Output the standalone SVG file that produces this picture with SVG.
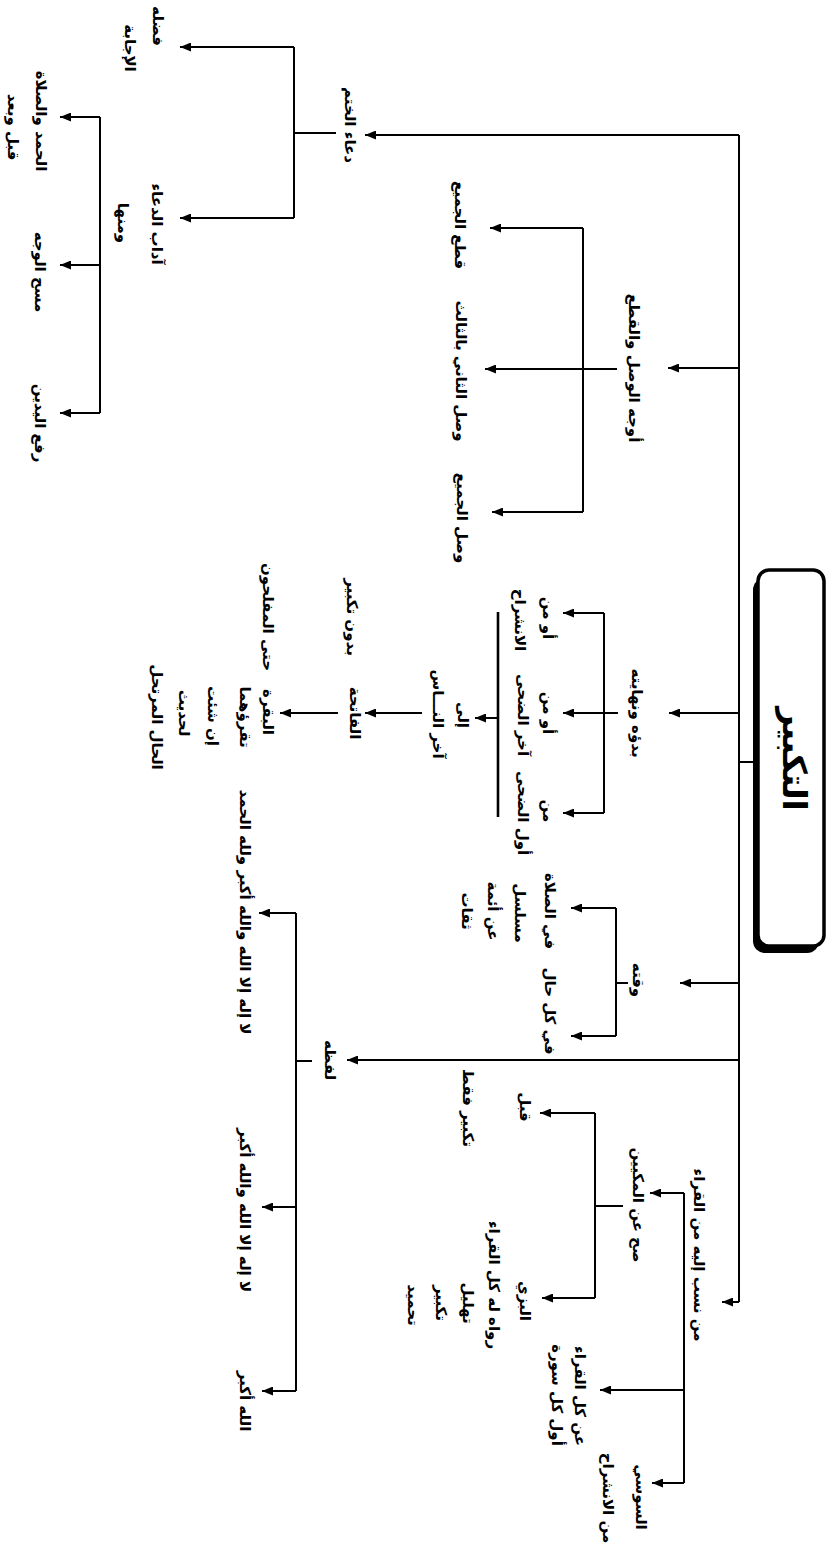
<svg xmlns="http://www.w3.org/2000/svg" width="828" height="1546" viewBox="0 0 828 1546">
<style>
.t{font-family:"DejaVu Sans","Noto Sans",sans-serif;font-size:15px;font-weight:bold;fill:#000;text-anchor:middle;dominant-baseline:central;direction:rtl}
.ttl{font-family:"DejaVu Sans","Noto Sans",sans-serif;font-size:33px;font-weight:bold;fill:#000;text-anchor:middle;dominant-baseline:central;direction:rtl}
.c{fill:none;stroke:#000;stroke-width:2}
.a{fill:none;stroke:#000;stroke-width:2;marker-end:url(#ah)}
</style>
<defs>
<marker id="ah" markerWidth="11" markerHeight="9" refX="11" refY="4.5" orient="auto" markerUnits="userSpaceOnUse"><path d="M0,0 L11,4.5 L0,9 z" fill="#000"/></marker>
</defs>
<rect width="828" height="1546" fill="#fff"/>
<g id="connectors">
<path class="c" d="M739,1302 L739,135"/>
<path class="a" d="M739,135 L365,135"/>
<path class="a" d="M739,1302 L722,1302"/>
<path class="a" d="M739,368 L668,368"/>
<path class="a" d="M739,713 L669,713"/>
<path class="c" d="M739,762 L755,762"/>
<path class="a" d="M739,983 L680,983"/>
<path class="a" d="M739,1060 L347,1060"/>
<path class="c" d="M336,133 L294,133"/>
<path class="c" d="M294,47 L294,218"/>
<path class="a" d="M294,47 L180,47"/>
<path class="a" d="M294,218 L180,218"/>
<path class="c" d="M100,117 L100,413"/>
<path class="a" d="M100,117 L60,117"/>
<path class="a" d="M100,265 L60,265"/>
<path class="a" d="M100,413 L60,413"/>
<path class="c" d="M583,228 L583,512"/>
<path class="a" d="M583,228 L490,228"/>
<path class="a" d="M617,369 L485,369"/>
<path class="a" d="M583,512 L492,512"/>
<path class="c" d="M604,613 L604,813"/>
<path class="a" d="M604,613 L563,613"/>
<path class="a" d="M618,713 L563,713"/>
<path class="a" d="M604,813 L563,813"/>
<path class="c" d="M498,612 L498,817" style="stroke-width:2.6"/>
<path class="a" d="M498,718 L475,718"/>
<path class="a" d="M422,713 L365,713"/>
<path class="a" d="M338,713 L280,713"/>
<path class="c" d="M628,983 L616,983"/>
<path class="c" d="M616,908 L616,1036"/>
<path class="a" d="M616,908 L571,908"/>
<path class="a" d="M616,1036 L571,1036"/>
<path class="c" d="M312,1061 L296,1061"/>
<path class="c" d="M296,913 L296,1391"/>
<path class="a" d="M296,913 L259,913"/>
<path class="a" d="M296,1207 L262,1207"/>
<path class="a" d="M296,1391 L262,1391"/>
<path class="c" d="M684,1193 L684,1483"/>
<path class="a" d="M684,1193 L650,1193"/>
<path class="a" d="M684,1390 L600,1390"/>
<path class="a" d="M684,1483 L652,1483"/>
<path class="c" d="M623,1206 L595,1206"/>
<path class="c" d="M595,1113 L595,1298"/>
<path class="a" d="M595,1113 L540,1113"/>
<path class="a" d="M595,1298 L542,1298"/>
</g>
<g id="root">
<rect x="753" y="578" width="66" height="375" rx="12" fill="#000"/>
<rect x="758" y="570" width="66" height="376" rx="11" fill="#fff" stroke="#000" stroke-width="3.5"/>
<text class="ttl" transform="translate(794 759) rotate(90)">التكبير</text>
</g>
<g id="n-dua">
<text class="t" transform="translate(350 125) rotate(90)">دعاء الختم</text>
</g>
<g id="n-fadluh">
<text class="t" transform="translate(158 26) rotate(90)">فضله</text>
<text class="t" transform="translate(130 48) rotate(90)">الإجابة</text>
</g>
<g id="n-adab">
<text class="t" transform="translate(157 224) rotate(90)">آداب الدعاء</text>
<text class="t" transform="translate(123 223) rotate(90)">ومنها</text>
</g>
<g id="n-hamd">
<text class="t" transform="translate(41 121) rotate(90)">الحمد والصلاة</text>
<text class="t" transform="translate(13 127) rotate(90)">قبل وبعد</text>
</g>
<g id="n-mash">
<text class="t" transform="translate(40 272) rotate(90)">مسح الوجه</text>
</g>
<g id="n-raf">
<text class="t" transform="translate(40 423) rotate(90)">رفع اليدين</text>
</g>
<g id="n-awjuh">
<text class="t" transform="translate(634 368) rotate(90)">أوجه الوصل والقطع</text>
</g>
<g id="n-qat">
<text class="t" transform="translate(460 225) rotate(90)">قطع الجميع</text>
</g>
<g id="n-wasl2">
<text class="t" transform="translate(461 371) rotate(90)">وصل الثاني بالثالث</text>
</g>
<g id="n-wasl">
<text class="t" transform="translate(462 518) rotate(90)">وصل الجميع</text>
</g>
<g id="n-badu">
<text class="t" transform="translate(637 713) rotate(90)">بدؤه ونهايته</text>
</g>
<g id="n-inshirah">
<text class="t" transform="translate(548 618) rotate(90)">أو من</text>
<text class="t" transform="translate(520 620) rotate(90)">الانشراح</text>
</g>
<g id="n-akhir-duha">
<text class="t" transform="translate(548 713) rotate(90)">أو من</text>
<text class="t" transform="translate(523 715) rotate(90)">آخر الضحى</text>
</g>
<g id="n-awwal-duha">
<text class="t" transform="translate(548 811) rotate(90)">من</text>
<text class="t" transform="translate(523 813) rotate(90)">أول الضحى</text>
</g>
<g id="n-ila">
<text class="t" transform="translate(463 715) rotate(90)">إلى</text>
<text class="t" transform="translate(438 714) rotate(90)">آخر النـــاس</text>
</g>
<g id="n-fatiha">
<text class="t" transform="translate(355 713) rotate(90)">الفاتحة</text>
<text class="t" transform="translate(352 617) rotate(90)">بدون تكبير</text>
</g>
<g id="n-baqara">
<text class="t" transform="translate(268 712) rotate(90)">البقرة</text>
<text class="t" transform="translate(245 717) rotate(90)">تقرؤهما</text>
<text class="t" transform="translate(213 716) rotate(90)">إن شئت</text>
<text class="t" transform="translate(184 713) rotate(90)">لحديث</text>
<text class="t" transform="translate(157 717) rotate(90)">الحال المرتحل</text>
<text class="t" transform="translate(268 617) rotate(90)">حتى المفلحون</text>
</g>
<g id="n-waqtuh">
<text class="t" transform="translate(638 980) rotate(90)">وقته</text>
</g>
<g id="n-salah">
<text class="t" transform="translate(550 911) rotate(90)">في الصلاة</text>
<text class="t" transform="translate(520 913) rotate(90)">مسلسل</text>
<text class="t" transform="translate(493 911) rotate(90)">عن أئمة</text>
<text class="t" transform="translate(467 911) rotate(90)">ثقات</text>
</g>
<g id="n-kull-hal">
<text class="t" transform="translate(550 1011) rotate(90)">في كل حال</text>
</g>
<g id="n-lafzuh">
<text class="t" transform="translate(330 1060) rotate(90)">لفظه</text>
</g>
<g id="n-lafz1">
<text class="t" transform="translate(245 912) rotate(90)">لا إله إلا الله والله أكبر ولله الحمد</text>
</g>
<g id="n-lafz2">
<text class="t" transform="translate(245 1210) rotate(90)">لا إله إلا الله والله أكبر</text>
</g>
<g id="n-lafz3">
<text class="t" transform="translate(245 1401) rotate(90)">الله أكبر</text>
</g>
<g id="n-man">
<text class="t" transform="translate(699 1255) rotate(90)">من نسب إليه من القراء</text>
</g>
<g id="n-sahha">
<text class="t" transform="translate(638 1205) rotate(90)">صح عن المكيين</text>
</g>
<g id="n-qabl">
<text class="t" transform="translate(525 1107) rotate(90)">قبل</text>
<text class="t" transform="translate(468 1108) rotate(90)">تكبير فقط</text>
</g>
<g id="n-bazzi">
<text class="t" transform="translate(525 1301) rotate(90)">البزي</text>
<text class="t" transform="translate(494 1285) rotate(90)">رواه له كل القراء</text>
<text class="t" transform="translate(468 1303) rotate(90)">تهليل</text>
<text class="t" transform="translate(441 1303) rotate(90)">تكبير</text>
<text class="t" transform="translate(413 1305) rotate(90)">تحميد</text>
</g>
<g id="n-kull">
<text class="t" transform="translate(580 1396) rotate(90)">عن كل القراء</text>
<text class="t" transform="translate(557 1395) rotate(90)">أول كل سورة</text>
</g>
<g id="n-susi">
<text class="t" transform="translate(641 1497) rotate(90)">السوسي</text>
<text class="t" transform="translate(608 1498) rotate(90)">من الانشراح</text>
</g>
</svg>
